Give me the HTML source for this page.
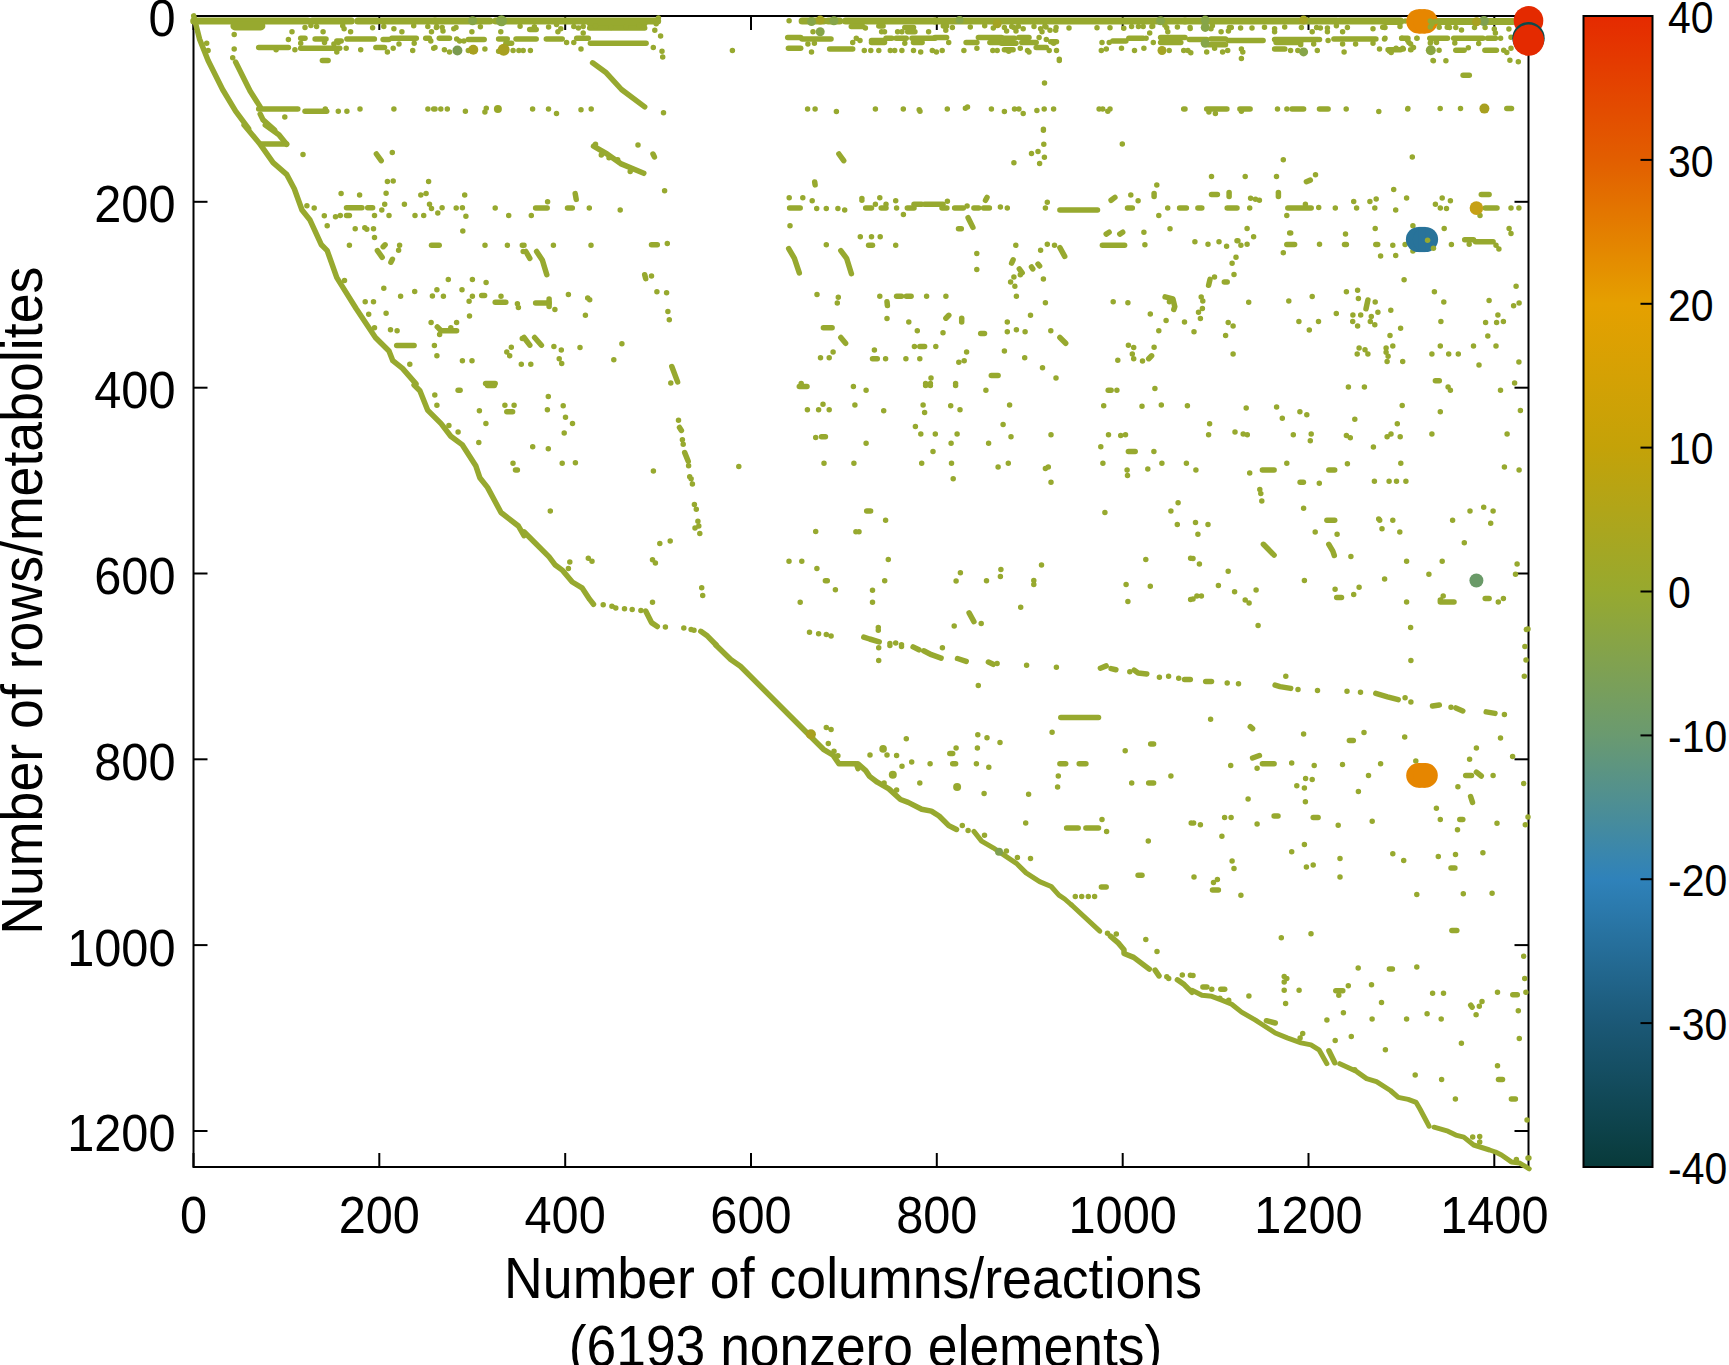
<!DOCTYPE html><html><head><meta charset="utf-8"><style>html,body{margin:0;padding:0;background:#fff;width:1729px;height:1365px;overflow:hidden;position:relative}text{font-family:"Liberation Sans",sans-serif;fill:#000}</style></head><body><svg width="1729" height="1365" viewBox="0 0 1729 1365" style="position:absolute;left:0;top:0">
<defs><linearGradient id="cb" x1="0" y1="0" x2="0" y2="1"><stop offset="0" stop-color="#e52a00"/><stop offset="0.125" stop-color="#e25e00"/><stop offset="0.25" stop-color="#e5a000"/><stop offset="0.375" stop-color="#c4a208"/><stop offset="0.5" stop-color="#97a92f"/><stop offset="0.625" stop-color="#6a9a70"/><stop offset="0.75" stop-color="#2f82ba"/><stop offset="0.875" stop-color="#1b5876"/><stop offset="1" stop-color="#083a3a"/></linearGradient></defs>
<rect x="193.5" y="16.0" width="1335.0" height="1151.0" fill="none" stroke="#000" stroke-width="2"/>
<line x1="193.5" y1="1167.0" x2="193.5" y2="1153.0" stroke="#000" stroke-width="2"/>
<line x1="193.5" y1="16.0" x2="193.5" y2="30.0" stroke="#000" stroke-width="2"/>
<line x1="379.3" y1="1167.0" x2="379.3" y2="1153.0" stroke="#000" stroke-width="2"/>
<line x1="379.3" y1="16.0" x2="379.3" y2="30.0" stroke="#000" stroke-width="2"/>
<line x1="565.2" y1="1167.0" x2="565.2" y2="1153.0" stroke="#000" stroke-width="2"/>
<line x1="565.2" y1="16.0" x2="565.2" y2="30.0" stroke="#000" stroke-width="2"/>
<line x1="751.0" y1="1167.0" x2="751.0" y2="1153.0" stroke="#000" stroke-width="2"/>
<line x1="751.0" y1="16.0" x2="751.0" y2="30.0" stroke="#000" stroke-width="2"/>
<line x1="936.8" y1="1167.0" x2="936.8" y2="1153.0" stroke="#000" stroke-width="2"/>
<line x1="936.8" y1="16.0" x2="936.8" y2="30.0" stroke="#000" stroke-width="2"/>
<line x1="1122.7" y1="1167.0" x2="1122.7" y2="1153.0" stroke="#000" stroke-width="2"/>
<line x1="1122.7" y1="16.0" x2="1122.7" y2="30.0" stroke="#000" stroke-width="2"/>
<line x1="1308.5" y1="1167.0" x2="1308.5" y2="1153.0" stroke="#000" stroke-width="2"/>
<line x1="1308.5" y1="16.0" x2="1308.5" y2="30.0" stroke="#000" stroke-width="2"/>
<line x1="1494.3" y1="1167.0" x2="1494.3" y2="1153.0" stroke="#000" stroke-width="2"/>
<line x1="1494.3" y1="16.0" x2="1494.3" y2="30.0" stroke="#000" stroke-width="2"/>
<line x1="193.5" y1="16.0" x2="207.5" y2="16.0" stroke="#000" stroke-width="2"/>
<line x1="1528.5" y1="16.0" x2="1514.5" y2="16.0" stroke="#000" stroke-width="2"/>
<line x1="193.5" y1="201.8" x2="207.5" y2="201.8" stroke="#000" stroke-width="2"/>
<line x1="1528.5" y1="201.8" x2="1514.5" y2="201.8" stroke="#000" stroke-width="2"/>
<line x1="193.5" y1="387.7" x2="207.5" y2="387.7" stroke="#000" stroke-width="2"/>
<line x1="1528.5" y1="387.7" x2="1514.5" y2="387.7" stroke="#000" stroke-width="2"/>
<line x1="193.5" y1="573.5" x2="207.5" y2="573.5" stroke="#000" stroke-width="2"/>
<line x1="1528.5" y1="573.5" x2="1514.5" y2="573.5" stroke="#000" stroke-width="2"/>
<line x1="193.5" y1="759.3" x2="207.5" y2="759.3" stroke="#000" stroke-width="2"/>
<line x1="1528.5" y1="759.3" x2="1514.5" y2="759.3" stroke="#000" stroke-width="2"/>
<line x1="193.5" y1="945.1" x2="207.5" y2="945.1" stroke="#000" stroke-width="2"/>
<line x1="1528.5" y1="945.1" x2="1514.5" y2="945.1" stroke="#000" stroke-width="2"/>
<line x1="193.5" y1="1131.0" x2="207.5" y2="1131.0" stroke="#000" stroke-width="2"/>
<line x1="1528.5" y1="1131.0" x2="1514.5" y2="1131.0" stroke="#000" stroke-width="2"/>
<g fill="#97a92f">
<polyline points="193.7,21.0 307.9,21.0" fill="none" stroke="#97a92f" stroke-width="7" stroke-linecap="round" stroke-linejoin="round"/>
<polyline points="312.2,21.0 351.3,21.0" fill="none" stroke="#97a92f" stroke-width="7" stroke-linecap="round" stroke-linejoin="round"/>
<polyline points="357.8,21.0 377.3,21.0" fill="none" stroke="#97a92f" stroke-width="7" stroke-linecap="round" stroke-linejoin="round"/>
<polyline points="381.6,21.0 435.0,21.0" fill="none" stroke="#97a92f" stroke-width="7" stroke-linecap="round" stroke-linejoin="round"/>
<polyline points="234.9,25.9 260.9,25.9" fill="none" stroke="#97a92f" stroke-width="9" stroke-linecap="round" stroke-linejoin="round"/>
<polyline points="300.7,38.2 305.0,38.2" fill="none" stroke="#97a92f" stroke-width="5.5" stroke-linecap="round" stroke-linejoin="round"/>
<polyline points="315.1,38.9 326.0,38.9" fill="none" stroke="#97a92f" stroke-width="5.5" stroke-linecap="round" stroke-linejoin="round"/>
<polyline points="336.8,41.1 341.2,41.1" fill="none" stroke="#97a92f" stroke-width="5.5" stroke-linecap="round" stroke-linejoin="round"/>
<polyline points="346.9,38.9 374.4,38.9" fill="none" stroke="#97a92f" stroke-width="5.5" stroke-linecap="round" stroke-linejoin="round"/>
<polyline points="383.1,39.6 388.9,39.6" fill="none" stroke="#97a92f" stroke-width="5.5" stroke-linecap="round" stroke-linejoin="round"/>
<polyline points="391.8,38.2 416.3,38.2" fill="none" stroke="#97a92f" stroke-width="5.5" stroke-linecap="round" stroke-linejoin="round"/>
<polyline points="425.7,38.2 429.4,38.2" fill="none" stroke="#97a92f" stroke-width="5.5" stroke-linecap="round" stroke-linejoin="round"/>
<polyline points="258.7,47.6 288.4,47.6" fill="none" stroke="#97a92f" stroke-width="5.5" stroke-linecap="round" stroke-linejoin="round"/>
<polyline points="300.7,48.3 339.7,48.3" fill="none" stroke="#97a92f" stroke-width="5.5" stroke-linecap="round" stroke-linejoin="round"/>
<polyline points="375.9,47.6 384.5,47.6" fill="none" stroke="#97a92f" stroke-width="5.5" stroke-linecap="round" stroke-linejoin="round"/>
<polyline points="322.4,60.6 328.1,60.6" fill="none" stroke="#97a92f" stroke-width="5.5" stroke-linecap="round" stroke-linejoin="round"/>
<polyline points="235.6,62.1 247.2,85.2 250.1,91.0 260.2,106.9" fill="none" stroke="#97a92f" stroke-width="5.5" stroke-linecap="round" stroke-linejoin="round"/>
<polyline points="258.7,109.0 297.8,109.0" fill="none" stroke="#97a92f" stroke-width="5.5" stroke-linecap="round" stroke-linejoin="round"/>
<polyline points="305.0,111.2 326.7,111.2" fill="none" stroke="#97a92f" stroke-width="5.5" stroke-linecap="round" stroke-linejoin="round"/>
<polyline points="260.2,114.1 263.1,119.9 274.6,130.0" fill="none" stroke="#97a92f" stroke-width="5.5" stroke-linecap="round" stroke-linejoin="round"/>
<polyline points="193.7,15.8 199.5,38.9 208.1,60.6 222.6,89.5 235.6,111.2 248.6,128.6" fill="none" stroke="#97a92f" stroke-width="5.5" stroke-linecap="round" stroke-linejoin="round"/>
<polyline points="435.0,21.0 489.9,21.0" fill="none" stroke="#97a92f" stroke-width="7" stroke-linecap="round" stroke-linejoin="round"/>
<polyline points="495.7,21.0 657.7,21.0" fill="none" stroke="#97a92f" stroke-width="7" stroke-linecap="round" stroke-linejoin="round"/>
<polyline points="529.7,29.5 536.2,29.5" fill="none" stroke="#97a92f" stroke-width="5.5" stroke-linecap="round" stroke-linejoin="round"/>
<polyline points="589.7,23.7 644.7,23.7" fill="none" stroke="#97a92f" stroke-width="5.5" stroke-linecap="round" stroke-linejoin="round"/>
<polyline points="589.7,28.1 644.7,28.1" fill="none" stroke="#97a92f" stroke-width="5.5" stroke-linecap="round" stroke-linejoin="round"/>
<polyline points="439.3,38.2 449.5,38.2" fill="none" stroke="#97a92f" stroke-width="5.5" stroke-linecap="round" stroke-linejoin="round"/>
<polyline points="468.3,39.6 484.2,39.6" fill="none" stroke="#97a92f" stroke-width="5.5" stroke-linecap="round" stroke-linejoin="round"/>
<polyline points="498.6,38.9 507.3,38.9" fill="none" stroke="#97a92f" stroke-width="5.5" stroke-linecap="round" stroke-linejoin="round"/>
<polyline points="505.9,43.3 511.6,43.3" fill="none" stroke="#97a92f" stroke-width="5.5" stroke-linecap="round" stroke-linejoin="round"/>
<polyline points="516.0,38.9 536.2,38.9" fill="none" stroke="#97a92f" stroke-width="5.5" stroke-linecap="round" stroke-linejoin="round"/>
<polyline points="546.3,38.9 562.2,38.9" fill="none" stroke="#97a92f" stroke-width="5.5" stroke-linecap="round" stroke-linejoin="round"/>
<polyline points="576.7,38.2 588.3,38.2" fill="none" stroke="#97a92f" stroke-width="5.5" stroke-linecap="round" stroke-linejoin="round"/>
<polyline points="590.4,43.3 646.1,43.3" fill="none" stroke="#97a92f" stroke-width="5.5" stroke-linecap="round" stroke-linejoin="round"/>
<polyline points="592.6,62.8 605.6,72.2 621.5,89.5 644.7,106.9" fill="none" stroke="#97a92f" stroke-width="5.5" stroke-linecap="round" stroke-linejoin="round"/>
<polyline points="802.1,21.0 823.8,21.0" fill="none" stroke="#97a92f" stroke-width="7" stroke-linecap="round" stroke-linejoin="round"/>
<polyline points="828.1,21.0 839.7,21.0" fill="none" stroke="#97a92f" stroke-width="7" stroke-linecap="round" stroke-linejoin="round"/>
<polyline points="845.5,21.0 935.0,21.0" fill="none" stroke="#97a92f" stroke-width="7" stroke-linecap="round" stroke-linejoin="round"/>
<polyline points="851.3,26.6 862.8,26.6" fill="none" stroke="#97a92f" stroke-width="5.5" stroke-linecap="round" stroke-linejoin="round"/>
<polyline points="878.8,25.9 883.1,25.9" fill="none" stroke="#97a92f" stroke-width="5.5" stroke-linecap="round" stroke-linejoin="round"/>
<polyline points="904.8,27.4 913.5,27.4" fill="none" stroke="#97a92f" stroke-width="5.5" stroke-linecap="round" stroke-linejoin="round"/>
<polyline points="907.7,31.7 914.9,31.7" fill="none" stroke="#97a92f" stroke-width="5.5" stroke-linecap="round" stroke-linejoin="round"/>
<polyline points="787.7,37.5 800.7,37.5" fill="none" stroke="#97a92f" stroke-width="5.5" stroke-linecap="round" stroke-linejoin="round"/>
<polyline points="802.1,38.9 831.0,38.9" fill="none" stroke="#97a92f" stroke-width="5.5" stroke-linecap="round" stroke-linejoin="round"/>
<polyline points="871.5,42.5 884.5,42.5" fill="none" stroke="#97a92f" stroke-width="5.5" stroke-linecap="round" stroke-linejoin="round"/>
<polyline points="871.5,40.4 884.5,40.4" fill="none" stroke="#97a92f" stroke-width="5.5" stroke-linecap="round" stroke-linejoin="round"/>
<polyline points="886.0,38.2 891.8,38.2" fill="none" stroke="#97a92f" stroke-width="5.5" stroke-linecap="round" stroke-linejoin="round"/>
<polyline points="896.1,38.2 906.2,38.2" fill="none" stroke="#97a92f" stroke-width="5.5" stroke-linecap="round" stroke-linejoin="round"/>
<polyline points="912.0,38.2 935.0,38.2" fill="none" stroke="#97a92f" stroke-width="5.5" stroke-linecap="round" stroke-linejoin="round"/>
<polyline points="913.5,42.5 922.1,42.5" fill="none" stroke="#97a92f" stroke-width="5.5" stroke-linecap="round" stroke-linejoin="round"/>
<polyline points="788.4,48.3 800.7,48.3" fill="none" stroke="#97a92f" stroke-width="5.5" stroke-linecap="round" stroke-linejoin="round"/>
<polyline points="829.6,49.0 852.7,49.0" fill="none" stroke="#97a92f" stroke-width="5.5" stroke-linecap="round" stroke-linejoin="round"/>
<polyline points="935.0,21.0 1185.0,21.0" fill="none" stroke="#97a92f" stroke-width="7" stroke-linecap="round" stroke-linejoin="round"/>
<polyline points="935.0,37.5 946.6,37.5" fill="none" stroke="#97a92f" stroke-width="5.5" stroke-linecap="round" stroke-linejoin="round"/>
<polyline points="966.1,42.5 976.9,42.5" fill="none" stroke="#97a92f" stroke-width="5.5" stroke-linecap="round" stroke-linejoin="round"/>
<polyline points="978.4,37.5 1001.5,37.5" fill="none" stroke="#97a92f" stroke-width="5.5" stroke-linecap="round" stroke-linejoin="round"/>
<polyline points="989.9,42.5 1000.1,42.5" fill="none" stroke="#97a92f" stroke-width="5.5" stroke-linecap="round" stroke-linejoin="round"/>
<polyline points="1003.0,38.2 1014.5,38.2" fill="none" stroke="#97a92f" stroke-width="5.5" stroke-linecap="round" stroke-linejoin="round"/>
<polyline points="1001.5,43.3 1016.0,43.3" fill="none" stroke="#97a92f" stroke-width="5.5" stroke-linecap="round" stroke-linejoin="round"/>
<polyline points="1018.9,37.5 1029.0,37.5" fill="none" stroke="#97a92f" stroke-width="5.5" stroke-linecap="round" stroke-linejoin="round"/>
<polyline points="1021.8,42.5 1036.2,42.5" fill="none" stroke="#97a92f" stroke-width="5.5" stroke-linecap="round" stroke-linejoin="round"/>
<polyline points="1050.7,41.8 1056.5,41.8" fill="none" stroke="#97a92f" stroke-width="5.5" stroke-linecap="round" stroke-linejoin="round"/>
<polyline points="1004.4,49.8 1013.1,49.8" fill="none" stroke="#97a92f" stroke-width="5.5" stroke-linecap="round" stroke-linejoin="round"/>
<polyline points="1036.2,47.6 1046.3,47.6" fill="none" stroke="#97a92f" stroke-width="5.5" stroke-linecap="round" stroke-linejoin="round"/>
<polyline points="1112.8,41.1 1125.9,41.1" fill="none" stroke="#97a92f" stroke-width="5.5" stroke-linecap="round" stroke-linejoin="round"/>
<polyline points="1128.8,38.2 1143.2,38.2" fill="none" stroke="#97a92f" stroke-width="5.5" stroke-linecap="round" stroke-linejoin="round"/>
<polyline points="1160.6,37.5 1185.0,37.5" fill="none" stroke="#97a92f" stroke-width="5.5" stroke-linecap="round" stroke-linejoin="round"/>
<polyline points="1160.6,42.5 1180.8,42.5" fill="none" stroke="#97a92f" stroke-width="5.5" stroke-linecap="round" stroke-linejoin="round"/>
<polyline points="1185.0,21.0 1336.8,21.0" fill="none" stroke="#97a92f" stroke-width="7" stroke-linecap="round" stroke-linejoin="round"/>
<polyline points="1339.7,21.0 1400.4,21.0" fill="none" stroke="#97a92f" stroke-width="7" stroke-linecap="round" stroke-linejoin="round"/>
<polyline points="1189.3,39.6 1206.7,39.6" fill="none" stroke="#97a92f" stroke-width="5.5" stroke-linecap="round" stroke-linejoin="round"/>
<polyline points="1211.0,38.9 1225.5,38.9" fill="none" stroke="#97a92f" stroke-width="5.5" stroke-linecap="round" stroke-linejoin="round"/>
<polyline points="1208.1,44.7 1225.5,44.7" fill="none" stroke="#97a92f" stroke-width="5.5" stroke-linecap="round" stroke-linejoin="round"/>
<polyline points="1228.4,40.4 1263.1,40.4" fill="none" stroke="#97a92f" stroke-width="5.5" stroke-linecap="round" stroke-linejoin="round"/>
<polyline points="1274.6,39.6 1318.0,39.6" fill="none" stroke="#97a92f" stroke-width="5.5" stroke-linecap="round" stroke-linejoin="round"/>
<polyline points="1276.1,42.5 1300.7,42.5" fill="none" stroke="#97a92f" stroke-width="5.5" stroke-linecap="round" stroke-linejoin="round"/>
<polyline points="1333.9,38.9 1375.9,38.9" fill="none" stroke="#97a92f" stroke-width="5.5" stroke-linecap="round" stroke-linejoin="round"/>
<polyline points="1274.6,49.0 1284.8,49.0" fill="none" stroke="#97a92f" stroke-width="5.5" stroke-linecap="round" stroke-linejoin="round"/>
<polyline points="1206.7,109.0 1226.9,109.0" fill="none" stroke="#97a92f" stroke-width="5.5" stroke-linecap="round" stroke-linejoin="round"/>
<polyline points="1239.9,109.0 1250.1,109.0" fill="none" stroke="#97a92f" stroke-width="5.5" stroke-linecap="round" stroke-linejoin="round"/>
<polyline points="1292.0,109.0 1303.6,109.0" fill="none" stroke="#97a92f" stroke-width="5.5" stroke-linecap="round" stroke-linejoin="round"/>
<polyline points="1319.5,109.0 1328.1,109.0" fill="none" stroke="#97a92f" stroke-width="5.5" stroke-linecap="round" stroke-linejoin="round"/>
<polyline points="1385.0,21.4 1400.6,21.4" fill="none" stroke="#97a92f" stroke-width="7" stroke-linecap="round" stroke-linejoin="round"/>
<polyline points="1428.7,21.4 1513.1,21.4" fill="none" stroke="#97a92f" stroke-width="7" stroke-linecap="round" stroke-linejoin="round"/>
<polyline points="1401.7,38.3 1407.9,38.3" fill="none" stroke="#97a92f" stroke-width="5.5" stroke-linecap="round" stroke-linejoin="round"/>
<polyline points="1429.8,38.3 1447.5,38.3" fill="none" stroke="#97a92f" stroke-width="5.5" stroke-linecap="round" stroke-linejoin="round"/>
<polyline points="1453.7,38.3 1482.9,38.3" fill="none" stroke="#97a92f" stroke-width="5.5" stroke-linecap="round" stroke-linejoin="round"/>
<polyline points="1487.5,38.3 1495.4,38.3" fill="none" stroke="#97a92f" stroke-width="5.5" stroke-linecap="round" stroke-linejoin="round"/>
<polyline points="1388.1,49.8 1400.6,49.8" fill="none" stroke="#97a92f" stroke-width="5.5" stroke-linecap="round" stroke-linejoin="round"/>
<polyline points="1455.8,50.3 1464.1,50.3" fill="none" stroke="#97a92f" stroke-width="5.5" stroke-linecap="round" stroke-linejoin="round"/>
<polyline points="1484.9,50.3 1496.4,50.3" fill="none" stroke="#97a92f" stroke-width="5.5" stroke-linecap="round" stroke-linejoin="round"/>
<polyline points="1463.1,75.3 1469.3,75.3" fill="none" stroke="#97a92f" stroke-width="5.5" stroke-linecap="round" stroke-linejoin="round"/>
<polyline points="1506.8,108.6 1511.5,108.6" fill="none" stroke="#97a92f" stroke-width="5.5" stroke-linecap="round" stroke-linejoin="round"/>
<polyline points="244.1,125.0 259.5,143.4 273.1,162.7 286.6,174.3 294.3,188.7 302.0,210.0 309.8,219.7 321.4,244.8 327.2,250.6 336.8,277.6 356.1,308.5 375.4,337.5 389.0,351.0 392.8,360.7 402.5,368.4 416.0,383.9" fill="none" stroke="#97a92f" stroke-width="5.5" stroke-linecap="round" stroke-linejoin="round"/>
<polyline points="265.3,125.0 278.9,134.7 286.6,144.3" fill="none" stroke="#97a92f" stroke-width="5.5" stroke-linecap="round" stroke-linejoin="round"/>
<polyline points="261.5,143.9 286.6,143.9" fill="none" stroke="#97a92f" stroke-width="5.5" stroke-linecap="round" stroke-linejoin="round"/>
<polyline points="376.4,154.0 381.2,160.7" fill="none" stroke="#97a92f" stroke-width="5.5" stroke-linecap="round" stroke-linejoin="round"/>
<polyline points="346.5,207.7 361.9,207.7" fill="none" stroke="#97a92f" stroke-width="5.5" stroke-linecap="round" stroke-linejoin="round"/>
<polyline points="367.7,207.7 372.6,207.7" fill="none" stroke="#97a92f" stroke-width="5.5" stroke-linecap="round" stroke-linejoin="round"/>
<polyline points="346.5,215.4 349.4,215.4" fill="none" stroke="#97a92f" stroke-width="5.5" stroke-linecap="round" stroke-linejoin="round"/>
<polyline points="383.2,246.7 385.1,244.8" fill="none" stroke="#97a92f" stroke-width="5.5" stroke-linecap="round" stroke-linejoin="round"/>
<polyline points="431.5,245.2 439.2,245.2" fill="none" stroke="#97a92f" stroke-width="5.5" stroke-linecap="round" stroke-linejoin="round"/>
<polyline points="377.4,250.6 382.2,257.3" fill="none" stroke="#97a92f" stroke-width="5.5" stroke-linecap="round" stroke-linejoin="round"/>
<polyline points="390.9,262.2 392.4,259.3" fill="none" stroke="#97a92f" stroke-width="5.5" stroke-linecap="round" stroke-linejoin="round"/>
<polyline points="481.7,295.4 484.6,295.4" fill="none" stroke="#97a92f" stroke-width="5.5" stroke-linecap="round" stroke-linejoin="round"/>
<polyline points="495.2,302.3 505.8,302.3" fill="none" stroke="#97a92f" stroke-width="5.5" stroke-linecap="round" stroke-linejoin="round"/>
<polyline points="437.3,326.9 441.1,330.7 456.6,330.7" fill="none" stroke="#97a92f" stroke-width="5.5" stroke-linecap="round" stroke-linejoin="round"/>
<polyline points="396.7,345.6 414.1,345.6" fill="none" stroke="#97a92f" stroke-width="5.5" stroke-linecap="round" stroke-linejoin="round"/>
<polyline points="485.6,383.5 495.2,383.5" fill="none" stroke="#97a92f" stroke-width="5.5" stroke-linecap="round" stroke-linejoin="round"/>
<polyline points="593.5,146.2 607.1,154.0 620.6,163.6 643.8,173.3" fill="none" stroke="#97a92f" stroke-width="5.5" stroke-linecap="round" stroke-linejoin="round"/>
<polyline points="653.0,154.0 654.4,156.9" fill="none" stroke="#97a92f" stroke-width="5.5" stroke-linecap="round" stroke-linejoin="round"/>
<polyline points="575.2,193.6 576.2,199.4" fill="none" stroke="#97a92f" stroke-width="5.5" stroke-linecap="round" stroke-linejoin="round"/>
<polyline points="535.6,208.1 547.2,208.1" fill="none" stroke="#97a92f" stroke-width="5.5" stroke-linecap="round" stroke-linejoin="round"/>
<polyline points="567.5,208.1 572.3,208.1" fill="none" stroke="#97a92f" stroke-width="5.5" stroke-linecap="round" stroke-linejoin="round"/>
<polyline points="651.5,244.8 657.3,244.8" fill="none" stroke="#97a92f" stroke-width="5.5" stroke-linecap="round" stroke-linejoin="round"/>
<polyline points="525.9,251.5 529.8,258.3" fill="none" stroke="#97a92f" stroke-width="5.5" stroke-linecap="round" stroke-linejoin="round"/>
<polyline points="536.6,251.5 542.4,260.2 546.8,274.7" fill="none" stroke="#97a92f" stroke-width="5.5" stroke-linecap="round" stroke-linejoin="round"/>
<polyline points="644.7,274.7 645.7,278.6" fill="none" stroke="#97a92f" stroke-width="5.5" stroke-linecap="round" stroke-linejoin="round"/>
<polyline points="535.6,303.1 549.1,303.1" fill="none" stroke="#97a92f" stroke-width="5.5" stroke-linecap="round" stroke-linejoin="round"/>
<polyline points="549.1,298.9 549.1,306.6" fill="none" stroke="#97a92f" stroke-width="5.5" stroke-linecap="round" stroke-linejoin="round"/>
<polyline points="524.0,337.5 529.8,345.2" fill="none" stroke="#97a92f" stroke-width="5.5" stroke-linecap="round" stroke-linejoin="round"/>
<polyline points="534.6,337.5 541.4,345.2" fill="none" stroke="#97a92f" stroke-width="5.5" stroke-linecap="round" stroke-linejoin="round"/>
<polyline points="671.8,366.5 677.6,381.9" fill="none" stroke="#97a92f" stroke-width="5.5" stroke-linecap="round" stroke-linejoin="round"/>
<polyline points="838.9,154.0 843.7,160.7" fill="none" stroke="#97a92f" stroke-width="5.5" stroke-linecap="round" stroke-linejoin="round"/>
<polyline points="814.7,182.0 815.1,184.9" fill="none" stroke="#97a92f" stroke-width="5.5" stroke-linecap="round" stroke-linejoin="round"/>
<polyline points="789.6,208.1 800.2,208.1" fill="none" stroke="#97a92f" stroke-width="5.5" stroke-linecap="round" stroke-linejoin="round"/>
<polyline points="788.7,248.6 794.4,258.3 799.3,272.8" fill="none" stroke="#97a92f" stroke-width="5.5" stroke-linecap="round" stroke-linejoin="round"/>
<polyline points="840.8,250.6 846.6,258.3 851.4,273.7" fill="none" stroke="#97a92f" stroke-width="5.5" stroke-linecap="round" stroke-linejoin="round"/>
<polyline points="823.4,327.8 832.1,327.8" fill="none" stroke="#97a92f" stroke-width="5.5" stroke-linecap="round" stroke-linejoin="round"/>
<polyline points="840.8,337.5 845.6,343.3" fill="none" stroke="#97a92f" stroke-width="5.5" stroke-linecap="round" stroke-linejoin="round"/>
<polyline points="865.7,208.1 871.5,208.1" fill="none" stroke="#97a92f" stroke-width="5.5" stroke-linecap="round" stroke-linejoin="round"/>
<polyline points="881.2,208.1 886.0,208.1" fill="none" stroke="#97a92f" stroke-width="5.5" stroke-linecap="round" stroke-linejoin="round"/>
<polyline points="907.3,208.1 914.0,208.1" fill="none" stroke="#97a92f" stroke-width="5.5" stroke-linecap="round" stroke-linejoin="round"/>
<polyline points="914.0,204.2 921.7,204.2" fill="none" stroke="#97a92f" stroke-width="5.5" stroke-linecap="round" stroke-linejoin="round"/>
<polyline points="924.6,204.2 943.0,204.2" fill="none" stroke="#97a92f" stroke-width="5.5" stroke-linecap="round" stroke-linejoin="round"/>
<polyline points="942.0,208.1 946.9,208.1" fill="none" stroke="#97a92f" stroke-width="5.5" stroke-linecap="round" stroke-linejoin="round"/>
<polyline points="954.6,208.1 963.3,208.1" fill="none" stroke="#97a92f" stroke-width="5.5" stroke-linecap="round" stroke-linejoin="round"/>
<polyline points="973.9,208.1 978.7,208.1" fill="none" stroke="#97a92f" stroke-width="5.5" stroke-linecap="round" stroke-linejoin="round"/>
<polyline points="983.6,208.1 989.4,208.1" fill="none" stroke="#97a92f" stroke-width="5.5" stroke-linecap="round" stroke-linejoin="round"/>
<polyline points="985.5,200.3 987.0,197.4" fill="none" stroke="#97a92f" stroke-width="5.5" stroke-linecap="round" stroke-linejoin="round"/>
<polyline points="1059.9,210.0 1097.5,210.0" fill="none" stroke="#97a92f" stroke-width="5.5" stroke-linecap="round" stroke-linejoin="round"/>
<polyline points="1111.1,200.3 1114.9,197.4" fill="none" stroke="#97a92f" stroke-width="5.5" stroke-linecap="round" stroke-linejoin="round"/>
<polyline points="1154.1,193.6 1154.1,196.5" fill="none" stroke="#97a92f" stroke-width="5.5" stroke-linecap="round" stroke-linejoin="round"/>
<polyline points="1127.5,208.1 1132.3,208.1" fill="none" stroke="#97a92f" stroke-width="5.5" stroke-linecap="round" stroke-linejoin="round"/>
<polyline points="1179.6,208.1 1186.4,208.1" fill="none" stroke="#97a92f" stroke-width="5.5" stroke-linecap="round" stroke-linejoin="round"/>
<polyline points="968.1,217.7 972.9,227.4" fill="none" stroke="#97a92f" stroke-width="5.5" stroke-linecap="round" stroke-linejoin="round"/>
<polyline points="958.5,228.7 961.3,228.7" fill="none" stroke="#97a92f" stroke-width="5.5" stroke-linecap="round" stroke-linejoin="round"/>
<polyline points="868.6,245.2 872.5,245.2" fill="none" stroke="#97a92f" stroke-width="5.5" stroke-linecap="round" stroke-linejoin="round"/>
<polyline points="1106.2,234.1 1109.1,232.2" fill="none" stroke="#97a92f" stroke-width="5.5" stroke-linecap="round" stroke-linejoin="round"/>
<polyline points="1119.8,234.1 1122.7,232.2" fill="none" stroke="#97a92f" stroke-width="5.5" stroke-linecap="round" stroke-linejoin="round"/>
<polyline points="1102.4,245.3 1124.6,245.3" fill="none" stroke="#97a92f" stroke-width="5.5" stroke-linecap="round" stroke-linejoin="round"/>
<polyline points="1059.9,247.7 1064.7,256.4" fill="none" stroke="#97a92f" stroke-width="5.5" stroke-linecap="round" stroke-linejoin="round"/>
<polyline points="1011.6,263.1 1013.1,259.8" fill="none" stroke="#97a92f" stroke-width="5.5" stroke-linecap="round" stroke-linejoin="round"/>
<polyline points="1019.3,268.9 1022.2,272.8" fill="none" stroke="#97a92f" stroke-width="5.5" stroke-linecap="round" stroke-linejoin="round"/>
<polyline points="1031.5,267.0 1032.8,268.9" fill="none" stroke="#97a92f" stroke-width="5.5" stroke-linecap="round" stroke-linejoin="round"/>
<polyline points="1038.0,264.1 1039.6,266.0" fill="none" stroke="#97a92f" stroke-width="5.5" stroke-linecap="round" stroke-linejoin="round"/>
<polyline points="896.6,296.3 901.5,296.3" fill="none" stroke="#97a92f" stroke-width="5.5" stroke-linecap="round" stroke-linejoin="round"/>
<polyline points="906.3,296.3 911.1,296.3" fill="none" stroke="#97a92f" stroke-width="5.5" stroke-linecap="round" stroke-linejoin="round"/>
<polyline points="887.0,301.8 887.4,305.6" fill="none" stroke="#97a92f" stroke-width="5.5" stroke-linecap="round" stroke-linejoin="round"/>
<polyline points="945.9,318.2 948.8,315.3" fill="none" stroke="#97a92f" stroke-width="5.5" stroke-linecap="round" stroke-linejoin="round"/>
<polyline points="961.7,318.2 961.7,322.0" fill="none" stroke="#97a92f" stroke-width="5.5" stroke-linecap="round" stroke-linejoin="round"/>
<polyline points="980.7,333.6 984.5,333.6" fill="none" stroke="#97a92f" stroke-width="5.5" stroke-linecap="round" stroke-linejoin="round"/>
<polyline points="1059.9,337.5 1065.7,343.3" fill="none" stroke="#97a92f" stroke-width="5.5" stroke-linecap="round" stroke-linejoin="round"/>
<polyline points="872.5,358.7 877.3,358.7" fill="none" stroke="#97a92f" stroke-width="5.5" stroke-linecap="round" stroke-linejoin="round"/>
<polyline points="919.8,346.6 924.6,346.6" fill="none" stroke="#97a92f" stroke-width="5.5" stroke-linecap="round" stroke-linejoin="round"/>
<polyline points="991.3,375.5 998.1,375.5" fill="none" stroke="#97a92f" stroke-width="5.5" stroke-linecap="round" stroke-linejoin="round"/>
<polyline points="1165.1,296.9 1172.9,298.9 1174.8,306.6 1173.8,309.5" fill="none" stroke="#97a92f" stroke-width="5.5" stroke-linecap="round" stroke-linejoin="round"/>
<polyline points="1148.7,358.7 1151.6,355.8" fill="none" stroke="#97a92f" stroke-width="5.5" stroke-linecap="round" stroke-linejoin="round"/>
<polyline points="1306.4,181.7 1310.3,180.1" fill="none" stroke="#97a92f" stroke-width="5.5" stroke-linecap="round" stroke-linejoin="round"/>
<polyline points="1211.5,194.4 1217.4,194.4" fill="none" stroke="#97a92f" stroke-width="5.5" stroke-linecap="round" stroke-linejoin="round"/>
<polyline points="1229.1,192.4 1229.1,196.4" fill="none" stroke="#97a92f" stroke-width="5.5" stroke-linecap="round" stroke-linejoin="round"/>
<polyline points="1278.4,192.4 1278.4,196.4" fill="none" stroke="#97a92f" stroke-width="5.5" stroke-linecap="round" stroke-linejoin="round"/>
<polyline points="1481.3,194.4 1489.1,194.4" fill="none" stroke="#97a92f" stroke-width="5.5" stroke-linecap="round" stroke-linejoin="round"/>
<polyline points="1197.9,208.1 1201.8,208.1" fill="none" stroke="#97a92f" stroke-width="5.5" stroke-linecap="round" stroke-linejoin="round"/>
<polyline points="1227.2,208.1 1237.0,208.1" fill="none" stroke="#97a92f" stroke-width="5.5" stroke-linecap="round" stroke-linejoin="round"/>
<polyline points="1287.8,208.1 1311.2,208.1" fill="none" stroke="#97a92f" stroke-width="5.5" stroke-linecap="round" stroke-linejoin="round"/>
<polyline points="1485.2,208.1 1497.0,208.1" fill="none" stroke="#97a92f" stroke-width="5.5" stroke-linecap="round" stroke-linejoin="round"/>
<polyline points="1289.7,233.1 1290.7,233.1" fill="none" stroke="#97a92f" stroke-width="5.5" stroke-linecap="round" stroke-linejoin="round"/>
<polyline points="1237.0,240.7 1237.9,240.7" fill="none" stroke="#97a92f" stroke-width="5.5" stroke-linecap="round" stroke-linejoin="round"/>
<polyline points="1286.8,244.6 1294.6,244.6" fill="none" stroke="#97a92f" stroke-width="5.5" stroke-linecap="round" stroke-linejoin="round"/>
<polyline points="1344.5,244.6 1346.4,244.6" fill="none" stroke="#97a92f" stroke-width="5.5" stroke-linecap="round" stroke-linejoin="round"/>
<polyline points="1375.8,244.6 1377.7,244.6" fill="none" stroke="#97a92f" stroke-width="5.5" stroke-linecap="round" stroke-linejoin="round"/>
<polyline points="1464.7,239.8 1473.5,239.8" fill="none" stroke="#97a92f" stroke-width="5.5" stroke-linecap="round" stroke-linejoin="round"/>
<polyline points="1475.5,241.7 1493.1,241.7" fill="none" stroke="#97a92f" stroke-width="5.5" stroke-linecap="round" stroke-linejoin="round"/>
<polyline points="1208.6,285.3 1210.0,279.4" fill="none" stroke="#97a92f" stroke-width="5.5" stroke-linecap="round" stroke-linejoin="round"/>
<polyline points="1224.3,282.0 1227.2,282.0" fill="none" stroke="#97a92f" stroke-width="5.5" stroke-linecap="round" stroke-linejoin="round"/>
<polyline points="1366.0,308.8 1367.9,300.0" fill="none" stroke="#97a92f" stroke-width="5.5" stroke-linecap="round" stroke-linejoin="round"/>
<polyline points="1435.4,380.7 1439.3,380.7" fill="none" stroke="#97a92f" stroke-width="5.5" stroke-linecap="round" stroke-linejoin="round"/>
<polyline points="414.1,385.0 419.9,390.8 427.6,410.1 441.1,423.6 450.8,436.2 462.4,444.9 475.9,466.1 479.8,477.7 487.5,487.4 501.0,512.5 518.4,526.0 524.0,535.7" fill="none" stroke="#97a92f" stroke-width="5.5" stroke-linecap="round" stroke-linejoin="round"/>
<polyline points="506.8,411.7 512.6,411.7" fill="none" stroke="#97a92f" stroke-width="5.5" stroke-linecap="round" stroke-linejoin="round"/>
<polyline points="515.5,470.0 517.4,470.0" fill="none" stroke="#97a92f" stroke-width="5.5" stroke-linecap="round" stroke-linejoin="round"/>
<polyline points="458.1,390.2 460.1,390.2" fill="none" stroke="#97a92f" stroke-width="5.5" stroke-linecap="round" stroke-linejoin="round"/>
<polyline points="487.5,385.6 494.3,385.6" fill="none" stroke="#97a92f" stroke-width="5.5" stroke-linecap="round" stroke-linejoin="round"/>
<polyline points="524.0,531.8 533.7,541.5 549.1,556.9 554.9,564.7 562.6,570.4 572.3,582.0 582.0,587.8 589.7,599.4 593.5,604.3" fill="none" stroke="#97a92f" stroke-width="5.5" stroke-linecap="round" stroke-linejoin="round"/>
<polyline points="645.7,611.0 651.5,622.6 657.3,626.5" fill="none" stroke="#97a92f" stroke-width="5.5" stroke-linecap="round" stroke-linejoin="round"/>
<polyline points="700.8,631.3 707.5,636.1 716.2,645.0" fill="none" stroke="#97a92f" stroke-width="5.5" stroke-linecap="round" stroke-linejoin="round"/>
<polyline points="679.5,427.5 681.4,430.4" fill="none" stroke="#97a92f" stroke-width="5.5" stroke-linecap="round" stroke-linejoin="round"/>
<polyline points="684.7,452.6 688.2,461.3" fill="none" stroke="#97a92f" stroke-width="5.5" stroke-linecap="round" stroke-linejoin="round"/>
<polyline points="821.5,436.8 825.4,436.8" fill="none" stroke="#97a92f" stroke-width="5.5" stroke-linecap="round" stroke-linejoin="round"/>
<polyline points="825.4,580.7 827.3,580.7" fill="none" stroke="#97a92f" stroke-width="5.5" stroke-linecap="round" stroke-linejoin="round"/>
<polyline points="799.3,386.5 807.0,386.5" fill="none" stroke="#97a92f" stroke-width="5.5" stroke-linecap="round" stroke-linejoin="round"/>
<polyline points="1108.2,390.2 1111.1,390.2" fill="none" stroke="#97a92f" stroke-width="5.5" stroke-linecap="round" stroke-linejoin="round"/>
<polyline points="1128.4,451.6 1135.2,451.6" fill="none" stroke="#97a92f" stroke-width="5.5" stroke-linecap="round" stroke-linejoin="round"/>
<polyline points="866.7,511.1 870.6,511.1" fill="none" stroke="#97a92f" stroke-width="5.5" stroke-linecap="round" stroke-linejoin="round"/>
<polyline points="969.1,612.9 973.9,621.6" fill="none" stroke="#97a92f" stroke-width="5.5" stroke-linecap="round" stroke-linejoin="round"/>
<polyline points="863.8,637.1 869.6,639.0 879.2,641.9" fill="none" stroke="#97a92f" stroke-width="5.5" stroke-linecap="round" stroke-linejoin="round"/>
<polyline points="1262.4,470.0 1274.1,470.0" fill="none" stroke="#97a92f" stroke-width="5.5" stroke-linecap="round" stroke-linejoin="round"/>
<polyline points="1328.8,470.0 1334.7,470.0" fill="none" stroke="#97a92f" stroke-width="5.5" stroke-linecap="round" stroke-linejoin="round"/>
<polyline points="1300.1,482.2 1303.4,482.2" fill="none" stroke="#97a92f" stroke-width="5.5" stroke-linecap="round" stroke-linejoin="round"/>
<polyline points="1326.9,520.3 1334.7,520.3" fill="none" stroke="#97a92f" stroke-width="5.5" stroke-linecap="round" stroke-linejoin="round"/>
<polyline points="1263.4,544.3 1274.1,555.1" fill="none" stroke="#97a92f" stroke-width="5.5" stroke-linecap="round" stroke-linejoin="round"/>
<polyline points="1328.8,544.3 1332.8,551.2 1334.3,555.5" fill="none" stroke="#97a92f" stroke-width="5.5" stroke-linecap="round" stroke-linejoin="round"/>
<polyline points="1336.7,597.5 1341.5,597.5" fill="none" stroke="#97a92f" stroke-width="5.5" stroke-linecap="round" stroke-linejoin="round"/>
<polyline points="1440.3,602.0 1454.0,602.0" fill="none" stroke="#97a92f" stroke-width="5.5" stroke-linecap="round" stroke-linejoin="round"/>
<polyline points="1485.2,598.5 1489.1,598.5" fill="none" stroke="#97a92f" stroke-width="5.5" stroke-linecap="round" stroke-linejoin="round"/>
<polyline points="715.8,645.0 730.7,659.5 740.4,666.2 790.6,716.5 804.1,730.0 811.8,737.7 823.4,749.3 833.1,755.1 838.9,763.8 856.3,763.8 858.0,768.6" fill="none" stroke="#97a92f" stroke-width="5.5" stroke-linecap="round" stroke-linejoin="round"/>
<polyline points="858.0,763.8 865.7,770.6 869.6,776.4 877.3,782.2 888.9,788.9 900.5,799.5 908.2,802.4 921.7,809.2 931.4,811.1 939.1,816.0 948.8,825.6 956.5,829.5" fill="none" stroke="#97a92f" stroke-width="5.5" stroke-linecap="round" stroke-linejoin="round"/>
<polyline points="973.9,831.4 981.6,841.1 993.2,847.8 1004.8,855.6 1016.4,863.3 1026.1,872.9 1039.6,881.6 1051.2,886.5 1058.9,895.2 1064.7,899.0 1071.5,905.0" fill="none" stroke="#97a92f" stroke-width="5" stroke-linecap="round" stroke-linejoin="round"/>
<polyline points="913.1,646.9 918.9,649.8" fill="none" stroke="#97a92f" stroke-width="5.5" stroke-linecap="round" stroke-linejoin="round"/>
<polyline points="923.7,650.8 931.4,654.7 941.1,658.1" fill="none" stroke="#97a92f" stroke-width="5.5" stroke-linecap="round" stroke-linejoin="round"/>
<polyline points="957.5,658.5 966.2,661.4" fill="none" stroke="#97a92f" stroke-width="5.5" stroke-linecap="round" stroke-linejoin="round"/>
<polyline points="988.4,662.0 993.2,664.3" fill="none" stroke="#97a92f" stroke-width="5.5" stroke-linecap="round" stroke-linejoin="round"/>
<polyline points="1100.4,668.2 1106.2,665.9" fill="none" stroke="#97a92f" stroke-width="5.5" stroke-linecap="round" stroke-linejoin="round"/>
<polyline points="1111.1,668.6 1115.9,669.7" fill="none" stroke="#97a92f" stroke-width="5.5" stroke-linecap="round" stroke-linejoin="round"/>
<polyline points="1134.2,670.1 1138.1,673.0 1146.8,674.0" fill="none" stroke="#97a92f" stroke-width="5.5" stroke-linecap="round" stroke-linejoin="round"/>
<polyline points="1184.5,679.4 1190.3,679.4" fill="none" stroke="#97a92f" stroke-width="5.5" stroke-linecap="round" stroke-linejoin="round"/>
<polyline points="1060.8,717.4 1098.5,717.4" fill="none" stroke="#97a92f" stroke-width="5.5" stroke-linecap="round" stroke-linejoin="round"/>
<polyline points="949.8,753.6 952.7,753.6" fill="none" stroke="#97a92f" stroke-width="5.5" stroke-linecap="round" stroke-linejoin="round"/>
<polyline points="1150.7,744.1 1153.6,744.1" fill="none" stroke="#97a92f" stroke-width="5.5" stroke-linecap="round" stroke-linejoin="round"/>
<polyline points="952.7,763.8 955.6,763.8" fill="none" stroke="#97a92f" stroke-width="5.5" stroke-linecap="round" stroke-linejoin="round"/>
<polyline points="1059.9,763.8 1065.7,763.8" fill="none" stroke="#97a92f" stroke-width="5.5" stroke-linecap="round" stroke-linejoin="round"/>
<polyline points="1079.2,763.8 1085.9,763.8" fill="none" stroke="#97a92f" stroke-width="5.5" stroke-linecap="round" stroke-linejoin="round"/>
<polyline points="1148.7,783.1 1153.6,783.1" fill="none" stroke="#97a92f" stroke-width="5.5" stroke-linecap="round" stroke-linejoin="round"/>
<polyline points="1066.6,828.1 1078.2,828.1" fill="none" stroke="#97a92f" stroke-width="5.5" stroke-linecap="round" stroke-linejoin="round"/>
<polyline points="1085.9,828.1 1098.5,828.1" fill="none" stroke="#97a92f" stroke-width="5.5" stroke-linecap="round" stroke-linejoin="round"/>
<polyline points="1138.1,875.3 1142.0,875.3" fill="none" stroke="#97a92f" stroke-width="5.5" stroke-linecap="round" stroke-linejoin="round"/>
<polyline points="1101.4,887.0 1106.2,887.0" fill="none" stroke="#97a92f" stroke-width="5.5" stroke-linecap="round" stroke-linejoin="round"/>
<polyline points="1205.7,681.6 1211.5,681.6" fill="none" stroke="#97a92f" stroke-width="5.5" stroke-linecap="round" stroke-linejoin="round"/>
<polyline points="1275.1,685.1 1280.0,686.6 1290.7,688.4" fill="none" stroke="#97a92f" stroke-width="5.5" stroke-linecap="round" stroke-linejoin="round"/>
<polyline points="1375.8,693.3 1387.5,696.8 1398.2,699.7" fill="none" stroke="#97a92f" stroke-width="5.5" stroke-linecap="round" stroke-linejoin="round"/>
<polyline points="1432.5,706.0 1439.3,705.0" fill="none" stroke="#97a92f" stroke-width="5.5" stroke-linecap="round" stroke-linejoin="round"/>
<polyline points="1455.9,707.9 1462.8,710.9" fill="none" stroke="#97a92f" stroke-width="5.5" stroke-linecap="round" stroke-linejoin="round"/>
<polyline points="1486.2,711.9 1495.0,713.4" fill="none" stroke="#97a92f" stroke-width="5.5" stroke-linecap="round" stroke-linejoin="round"/>
<polyline points="1250.3,726.7 1252.6,728.7" fill="none" stroke="#97a92f" stroke-width="5.5" stroke-linecap="round" stroke-linejoin="round"/>
<polyline points="1349.4,740.4 1353.3,740.4" fill="none" stroke="#97a92f" stroke-width="5.5" stroke-linecap="round" stroke-linejoin="round"/>
<polyline points="1252.6,758.0 1259.4,755.5" fill="none" stroke="#97a92f" stroke-width="5.5" stroke-linecap="round" stroke-linejoin="round"/>
<polyline points="1262.4,763.7 1274.1,763.7" fill="none" stroke="#97a92f" stroke-width="5.5" stroke-linecap="round" stroke-linejoin="round"/>
<polyline points="1465.7,775.6 1471.5,775.6" fill="none" stroke="#97a92f" stroke-width="5.5" stroke-linecap="round" stroke-linejoin="round"/>
<polyline points="1476.4,772.1 1481.3,776.0" fill="none" stroke="#97a92f" stroke-width="5.5" stroke-linecap="round" stroke-linejoin="round"/>
<polyline points="1274.1,816.1 1278.0,816.1" fill="none" stroke="#97a92f" stroke-width="5.5" stroke-linecap="round" stroke-linejoin="round"/>
<polyline points="1313.2,817.4 1318.1,817.4" fill="none" stroke="#97a92f" stroke-width="5.5" stroke-linecap="round" stroke-linejoin="round"/>
<polyline points="1470.6,796.5 1472.5,802.4" fill="none" stroke="#97a92f" stroke-width="5.5" stroke-linecap="round" stroke-linejoin="round"/>
<polyline points="1459.8,819.4 1462.8,819.4" fill="none" stroke="#97a92f" stroke-width="5.5" stroke-linecap="round" stroke-linejoin="round"/>
<polyline points="1451.0,867.9 1454.9,867.9" fill="none" stroke="#97a92f" stroke-width="5.5" stroke-linecap="round" stroke-linejoin="round"/>
<polyline points="1212.5,889.9 1218.4,889.9" fill="none" stroke="#97a92f" stroke-width="5.5" stroke-linecap="round" stroke-linejoin="round"/>
<polyline points="1071.6,905.0 1099.8,931.2" fill="none" stroke="#97a92f" stroke-width="5" stroke-linecap="round" stroke-linejoin="round"/>
<polyline points="1110.4,936.1 1118.2,942.9 1124.0,949.7 1124.0,953.5 1133.7,957.4 1149.3,969.1" fill="none" stroke="#97a92f" stroke-width="5.5" stroke-linecap="round" stroke-linejoin="round"/>
<polyline points="1155.1,970.1 1159.0,975.9" fill="none" stroke="#97a92f" stroke-width="5.5" stroke-linecap="round" stroke-linejoin="round"/>
<polyline points="1177.4,979.8 1184.2,984.6 1192.0,992.4" fill="none" stroke="#97a92f" stroke-width="5.5" stroke-linecap="round" stroke-linejoin="round"/>
<polyline points="1192.0,990.3 1201.9,995.3 1211.8,996.3 1221.8,1000.2 1231.7,1004.2 1241.6,1012.1 1255.5,1020.1 1261.4,1024.0 1275.3,1033.0 1287.2,1037.9 1301.1,1042.9 1311.0,1044.9 1319.0,1049.8 1326.9,1063.7" fill="none" stroke="#97a92f" stroke-width="5" stroke-linecap="round" stroke-linejoin="round"/>
<polyline points="1328.9,1050.8 1334.8,1062.7" fill="none" stroke="#97a92f" stroke-width="5.5" stroke-linecap="round" stroke-linejoin="round"/>
<polyline points="1339.8,1063.7 1356.7,1071.6 1366.6,1078.6 1376.5,1081.6 1390.4,1090.5 1398.3,1097.4 1408.2,1099.4 1416.2,1102.4 1420.1,1109.3 1429.1,1126.2" fill="none" stroke="#97a92f" stroke-width="5" stroke-linecap="round" stroke-linejoin="round"/>
<polyline points="1434.0,1127.2 1447.9,1131.2 1455.8,1135.1 1463.8,1137.1 1473.7,1145.0 1489.6,1150.0 1495.5,1152.0 1501.5,1155.0 1511.4,1161.9 1519.3,1162.9 1529.2,1168.8" fill="none" stroke="#97a92f" stroke-width="5" stroke-linecap="round" stroke-linejoin="round"/>
<polyline points="1202.9,986.9 1206.9,986.9" fill="none" stroke="#97a92f" stroke-width="5.5" stroke-linecap="round" stroke-linejoin="round"/>
<polyline points="1220.8,989.3 1224.7,989.3" fill="none" stroke="#97a92f" stroke-width="5.5" stroke-linecap="round" stroke-linejoin="round"/>
<polyline points="1266.4,1020.7 1275.3,1023.0" fill="none" stroke="#97a92f" stroke-width="5.5" stroke-linecap="round" stroke-linejoin="round"/>
<polyline points="1451.9,930.4 1456.8,930.4" fill="none" stroke="#97a92f" stroke-width="5.5" stroke-linecap="round" stroke-linejoin="round"/>
<polyline points="1389.4,968.9 1392.4,968.9" fill="none" stroke="#97a92f" stroke-width="5.5" stroke-linecap="round" stroke-linejoin="round"/>
<polyline points="1335.8,990.7 1342.8,990.7" fill="none" stroke="#97a92f" stroke-width="5.5" stroke-linecap="round" stroke-linejoin="round"/>
<polyline points="1512.8,994.7 1517.3,994.7" fill="none" stroke="#97a92f" stroke-width="5.5" stroke-linecap="round" stroke-linejoin="round"/>
<polyline points="1470.7,1005.2 1472.1,1007.2" fill="none" stroke="#97a92f" stroke-width="5.5" stroke-linecap="round" stroke-linejoin="round"/>
<polyline points="1498.5,1079.6 1502.5,1079.6" fill="none" stroke="#97a92f" stroke-width="5.5" stroke-linecap="round" stroke-linejoin="round"/>
<polyline points="1511.4,1099.0 1515.4,1099.0" fill="none" stroke="#97a92f" stroke-width="5.5" stroke-linecap="round" stroke-linejoin="round"/>
<path d="M305.0 27.4h0M316.6 26.6h0M344.1 28.8h0M383.8 26.6h0M393.9 28.8h0M292.0 31.7h0M323.1 31.7h0M350.6 31.7h0M401.9 31.7h0M431.5 31.7h0M234.2 34.6h0M288.4 39.6h0M300.7 43.3h0M324.5 42.5h0M333.9 44.0h0M338.3 42.5h0M399.0 44.0h0M414.2 43.3h0M430.8 41.1h0M276.1 49.8h0M294.9 49.8h0M336.8 51.9h0M346.2 48.3h0M360.7 49.8h0M387.4 51.9h0M393.2 48.3h0M412.7 50.5h0M433.7 48.3h0M234.2 49.0h0M232.7 57.7h0M325.3 109.0h0M338.3 111.2h0M346.9 111.2h0M360.0 109.0h0M393.9 109.0h0M427.9 109.0h0M433.7 109.0h0M284.8 117.0h0M206.7 43.3h0M208.1 50.5h0M436.4 27.4h0M442.2 27.4h0M443.0 31.0h0M453.8 28.8h0M471.9 31.7h0M500.8 31.7h0M556.5 24.5h0M557.9 31.7h0M560.8 28.8h0M573.8 26.6h0M583.2 26.6h0M654.8 30.2h0M656.2 23.7h0M658.4 18.0h0M456.7 38.9h0M463.9 41.1h0M459.6 41.1h0M566.6 42.5h0M573.8 42.5h0M583.2 33.1h0M660.6 36.0h0M435.0 47.6h0M444.4 49.8h0M449.5 51.9h0M468.3 50.5h0M484.9 49.0h0M498.6 51.2h0M513.1 50.5h0M518.9 50.5h0M523.2 50.5h0M530.4 50.5h0M581.0 49.0h0M653.3 47.6h0M662.0 51.2h0M662.7 57.0h0M435.0 109.0h0M440.8 109.0h0M447.3 109.0h0M465.4 111.2h0M484.9 111.9h0M486.3 108.3h0M532.6 109.0h0M548.5 109.0h0M556.5 113.4h0M581.0 109.8h0M591.2 109.0h0M663.5 112.7h0M789.1 20.8h0M813.0 31.7h0M881.6 31.7h0M884.5 31.7h0M897.6 31.7h0M901.9 31.7h0M928.6 31.7h0M807.9 44.0h0M814.4 43.3h0M852.7 42.5h0M856.3 38.2h0M860.0 40.4h0M904.8 43.3h0M811.5 51.9h0M864.3 50.5h0M870.8 50.5h0M878.8 50.5h0M890.3 50.5h0M894.7 50.5h0M901.9 50.5h0M913.5 50.5h0M920.7 51.9h0M932.3 50.5h0M732.4 50.5h0M807.6 109.0h0M815.1 109.0h0M836.4 111.6h0M875.4 109.0h0M903.3 109.0h0M919.2 109.8h0M920.0 111.2h0M945.8 30.2h0M946.6 25.9h0M952.4 27.4h0M1004.4 27.4h0M1006.6 31.0h0M1013.8 27.4h0M1016.0 31.0h0M1023.2 28.8h0M1034.0 26.6h0M1040.6 28.8h0M1042.0 31.7h0M1044.9 25.9h0M1050.0 30.2h0M1055.7 30.2h0M1131.6 26.6h0M1143.2 26.6h0M1151.9 26.6h0M1164.9 25.2h0M1167.8 31.7h0M948.7 42.5h0M1039.1 37.5h0M1046.3 39.6h0M1053.6 43.3h0M936.4 51.9h0M942.2 50.5h0M963.9 50.5h0M976.9 48.3h0M992.8 50.5h0M997.2 50.5h0M1008.7 51.2h0M1020.3 48.3h0M1027.5 50.5h0M1029.0 51.9h0M1049.2 50.5h0M1056.5 50.5h0M1059.3 59.2h0M1059.3 60.6h0M1102.0 42.5h0M1101.3 50.5h0M1106.3 49.0h0M1109.2 42.5h0M1121.5 48.3h0M1134.5 50.5h0M1143.9 48.3h0M1146.1 38.2h0M1149.7 33.1h0M1153.3 42.5h0M1169.2 50.5h0M1183.7 50.5h0M1044.5 83.0h0M947.3 109.0h0M965.4 108.3h0M967.5 106.9h0M991.4 109.0h0M1004.4 111.6h0M1014.5 109.0h0M1018.9 109.0h0M1023.2 113.4h0M1036.9 110.5h0M1044.2 109.0h0M1053.6 109.0h0M1099.1 109.0h0M1102.7 109.0h0M1107.8 111.2h0M1110.0 109.0h0M1183.7 109.0h0M1043.4 129.3h0M1190.1 27.4h0M1211.0 28.8h0M1221.1 31.7h0M1228.4 31.0h0M1231.3 27.4h0M1274.6 28.8h0M1274.6 31.7h0M1301.4 27.4h0M1312.2 31.7h0M1316.6 27.4h0M1327.4 28.1h0M1327.4 31.7h0M1342.6 31.7h0M1373.0 28.8h0M1384.5 27.4h0M1430.8 25.9h0M1300.7 44.7h0M1313.7 44.0h0M1319.5 39.6h0M1328.1 40.4h0M1342.6 44.0h0M1355.6 44.0h0M1373.0 43.3h0M1384.5 38.9h0M1401.9 38.2h0M1407.7 40.4h0M1410.6 44.0h0M1417.1 38.2h0M1430.8 41.8h0M1187.9 50.5h0M1190.8 52.7h0M1206.7 51.9h0M1214.6 48.3h0M1222.6 51.9h0M1227.7 50.5h0M1241.4 49.0h0M1242.8 51.9h0M1290.6 50.5h0M1297.8 50.5h0M1317.3 50.5h0M1344.1 51.9h0M1379.5 49.0h0M1389.6 51.2h0M1396.1 48.3h0M1403.3 49.0h0M1410.6 49.8h0M1413.5 47.6h0M1430.8 49.8h0M1241.4 58.4h0M1433.0 60.6h0M1185.0 109.0h0M1208.9 111.9h0M1215.4 113.4h0M1241.4 111.2h0M1277.5 109.0h0M1286.9 109.0h0M1346.2 109.0h0M1378.8 111.6h0M1407.7 109.0h0M1405.3 21.1h0M1385.0 27.4h0M1430.3 26.9h0M1449.5 27.4h0M1455.8 27.4h0M1461.5 30.0h0M1474.5 27.4h0M1494.3 28.9h0M1495.4 33.1h0M1508.9 28.9h0M1408.9 42.5h0M1416.8 38.3h0M1385.0 38.3h0M1430.3 43.0h0M1436.5 42.5h0M1454.8 43.0h0M1478.7 43.5h0M1500.6 38.3h0M1511.0 37.3h0M1391.2 52.4h0M1402.7 48.2h0M1411.0 49.8h0M1413.1 47.7h0M1439.1 50.3h0M1468.3 47.7h0M1503.7 50.3h0M1506.8 52.4h0M1511.0 48.2h0M1433.4 60.7h0M1445.9 60.7h0M1509.9 60.2h0M1518.3 61.7h0M1407.9 108.6h0M1440.2 108.6h0M1460.5 108.6h0M303.0 154.4h0M392.3 152.4h0M387.4 181.4h0M393.2 181.0h0M428.6 181.4h0M341.1 193.6h0M359.6 195.1h0M386.1 193.2h0M420.8 195.1h0M426.1 193.6h0M464.7 195.1h0M306.9 205.7h0M314.2 208.1h0M381.8 210.0h0M384.7 204.2h0M404.4 204.2h0M429.5 204.2h0M431.5 208.5h0M437.8 212.9h0M442.1 207.7h0M456.2 208.1h0M462.4 207.7h0M495.2 208.1h0M324.3 215.8h0M335.5 216.8h0M340.3 215.4h0M374.5 215.4h0M389.0 215.4h0M415.0 215.4h0M423.7 215.4h0M465.9 216.2h0M508.7 215.4h0M327.2 225.8h0M355.2 228.7h0M364.8 227.8h0M366.8 229.3h0M373.5 228.7h0M462.8 230.9h0M374.5 237.4h0M349.4 245.3h0M399.6 245.2h0M398.6 250.2h0M485.0 245.3h0M507.4 245.3h0M522.3 245.3h0M523.2 251.5h0M344.5 280.5h0M448.3 279.5h0M472.4 279.5h0M486.1 282.4h0M383.8 288.2h0M414.7 291.5h0M400.6 296.3h0M432.4 296.0h0M436.9 289.8h0M443.4 296.3h0M462.0 289.8h0M472.4 296.3h0M469.1 301.2h0M501.0 296.3h0M517.4 303.7h0M518.4 307.6h0M365.2 301.8h0M373.5 301.8h0M386.1 313.3h0M368.7 314.3h0M469.5 315.9h0M431.1 322.4h0M456.6 322.4h0M390.5 329.8h0M397.1 330.7h0M450.8 327.8h0M439.6 334.6h0M374.5 327.8h0M522.3 338.5h0M434.4 345.6h0M436.9 355.8h0M462.4 360.7h0M472.0 360.7h0M409.8 364.2h0M511.3 347.2h0M506.8 352.0h0M509.7 355.8h0M521.3 364.2h0M601.3 154.9h0M609.0 157.8h0M617.7 159.8h0M630.2 171.4h0M595.5 144.3h0M638.0 144.9h0M664.6 190.7h0M547.6 201.7h0M589.3 208.1h0M620.2 210.0h0M531.3 215.4h0M553.4 245.2h0M591.0 245.3h0M667.3 243.4h0M524.0 245.2h0M651.5 276.1h0M656.9 291.7h0M666.6 292.7h0M568.4 294.4h0M554.9 309.5h0M587.7 297.9h0M589.7 299.8h0M585.4 315.3h0M667.9 311.4h0M669.3 319.7h0M553.9 346.6h0M561.3 350.0h0M580.0 347.5h0M621.9 343.7h0M559.2 358.7h0M561.7 363.6h0M530.8 364.2h0M613.8 359.7h0M670.8 382.9h0M789.2 197.8h0M802.8 197.8h0M812.2 200.7h0M816.7 208.5h0M826.3 208.5h0M837.9 208.5h0M844.7 210.0h0M790.0 225.8h0M826.3 244.8h0M817.0 294.4h0M838.3 297.3h0M837.3 303.1h0M820.5 357.8h0M829.2 357.8h0M833.1 352.0h0M801.2 383.5h0M1043.4 130.2h0M1043.8 144.3h0M1031.5 153.4h0M1038.0 151.5h0M1044.4 157.3h0M1039.6 163.6h0M1013.9 162.7h0M1122.3 143.9h0M1156.8 184.9h0M861.9 198.4h0M861.9 200.3h0M879.8 197.8h0M895.7 200.7h0M875.4 204.2h0M886.0 204.2h0M896.6 208.1h0M903.4 214.4h0M947.4 201.3h0M967.1 206.1h0M1000.4 207.1h0M1007.3 208.1h0M1047.3 202.3h0M1045.4 208.1h0M1130.8 195.1h0M1138.1 200.7h0M1167.7 208.1h0M1158.8 215.4h0M1170.0 228.7h0M860.3 236.7h0M871.5 236.7h0M880.2 236.7h0M895.7 245.2h0M1143.9 232.2h0M1144.9 244.8h0M976.8 253.5h0M976.8 269.5h0M1015.8 245.3h0M1040.6 250.2h0M1047.3 244.2h0M1054.5 245.2h0M1020.3 274.7h0M1013.9 277.0h0M1010.6 282.1h0M1014.9 286.3h0M1043.4 279.0h0M879.8 296.3h0M926.6 296.3h0M945.9 296.3h0M1016.4 296.3h0M1045.4 302.7h0M887.0 318.6h0M908.8 322.0h0M917.3 330.7h0M943.0 332.7h0M1007.3 322.0h0M1007.3 331.7h0M1016.4 329.8h0M1025.1 331.7h0M1030.5 315.3h0M1050.8 330.7h0M874.4 350.0h0M885.6 358.7h0M905.9 358.7h0M919.8 358.7h0M914.4 346.6h0M935.8 346.6h0M966.6 352.0h0M964.2 360.7h0M958.8 362.2h0M1004.4 351.0h0M1024.7 357.8h0M1042.5 367.8h0M1056.0 378.1h0M931.0 378.1h0M925.6 383.5h0M930.4 383.5h0M955.6 383.5h0M1113.2 301.8h0M1127.9 302.7h0M1169.4 301.8h0M1150.3 313.9h0M1166.1 320.5h0M1184.5 322.0h0M1158.8 330.7h0M1128.4 345.2h0M1133.7 347.5h0M1132.3 353.9h0M1133.7 358.7h0M1117.8 360.3h0M1142.5 361.1h0M1154.1 347.2h0M1283.3 159.8h0M1412.3 156.9h0M1211.5 176.4h0M1245.2 176.4h0M1276.5 176.4h0M1315.5 174.8h0M1250.6 198.3h0M1255.5 199.3h0M1259.4 200.3h0M1393.7 189.5h0M1406.6 197.9h0M1353.7 201.6h0M1369.9 201.6h0M1376.2 198.9h0M1442.2 197.9h0M1450.4 200.7h0M1249.7 208.1h0M1305.4 204.2h0M1318.7 207.5h0M1335.3 208.1h0M1356.6 208.1h0M1374.8 208.1h0M1395.7 210.0h0M1435.4 204.2h0M1440.3 208.1h0M1446.5 208.5h0M1511.0 208.1h0M1518.9 208.1h0M1286.8 215.5h0M1480.0 215.5h0M1247.1 228.6h0M1375.2 228.6h0M1412.9 225.7h0M1444.2 228.6h0M1509.1 228.6h0M1511.0 233.5h0M1345.5 234.1h0M1194.9 241.7h0M1208.0 244.2h0M1219.0 241.7h0M1226.6 246.2h0M1240.9 245.2h0M1247.1 244.2h0M1253.6 236.8h0M1319.5 244.2h0M1392.8 245.2h0M1405.1 244.6h0M1412.9 251.1h0M1451.4 244.6h0M1469.2 244.2h0M1496.0 245.2h0M1498.9 249.1h0M1283.3 252.7h0M1380.6 256.0h0M1395.7 255.4h0M1236.0 257.3h0M1232.1 263.2h0M1234.0 274.5h0M1214.5 276.9h0M1404.1 279.8h0M1516.1 286.3h0M1434.4 291.8h0M1346.4 291.8h0M1357.6 290.2h0M1358.4 298.4h0M1375.2 301.9h0M1312.2 296.4h0M1288.8 300.9h0M1248.7 302.3h0M1201.2 297.0h0M1202.8 300.9h0M1202.4 308.4h0M1198.5 312.3h0M1200.4 318.5h0M1443.8 301.9h0M1489.1 300.4h0M1513.6 305.8h0M1519.1 302.9h0M1336.3 313.6h0M1352.9 315.0h0M1360.7 315.0h0M1371.3 316.6h0M1377.9 312.3h0M1390.8 310.3h0M1352.7 321.5h0M1370.3 321.5h0M1374.8 324.8h0M1357.6 326.0h0M1298.9 321.5h0M1318.5 321.5h0M1309.3 329.9h0M1228.2 322.4h0M1233.1 326.0h0M1194.0 331.8h0M1225.6 335.5h0M1497.9 315.0h0M1485.6 322.4h0M1496.6 322.4h0M1503.4 321.5h0M1440.9 321.5h0M1400.6 328.3h0M1390.0 335.5h0M1487.8 336.1h0M1359.1 347.9h0M1365.0 349.8h0M1367.9 354.1h0M1357.2 354.1h0M1386.1 347.9h0M1386.1 352.2h0M1388.1 356.3h0M1392.8 345.9h0M1387.1 361.5h0M1402.7 361.5h0M1440.3 345.9h0M1431.9 354.1h0M1448.7 354.1h0M1458.3 354.1h0M1473.5 345.9h0M1496.0 345.9h0M1479.0 365.1h0M1518.9 361.9h0M1233.1 354.1h0M1514.6 383.0h0M434.8 395.0h0M436.9 405.3h0M448.9 425.6h0M458.1 431.9h0M479.4 410.7h0M485.9 423.6h0M478.8 442.4h0M504.9 405.3h0M514.1 405.3h0M513.0 463.2h0M603.2 604.8h0M611.9 606.2h0M615.8 608.1h0M624.5 608.7h0M632.2 609.5h0M640.9 610.6h0M665.4 627.0h0M683.8 628.0h0M691.1 629.4h0M694.0 630.3h0M548.3 396.6h0M547.4 409.7h0M563.2 405.7h0M565.5 417.3h0M572.5 423.6h0M564.2 432.9h0M532.7 446.8h0M548.3 448.7h0M562.2 463.2h0M575.4 462.8h0M653.4 471.0h0M550.3 511.1h0M678.5 420.2h0M682.4 439.7h0M683.2 444.3h0M688.6 465.7h0M689.7 476.8h0M691.1 478.7h0M692.4 484.1h0M694.4 504.4h0M696.3 509.2h0M697.9 521.2h0M698.8 526.0h0M695.0 527.9h0M699.8 533.4h0M738.8 466.5h0M659.8 543.4h0M670.2 540.9h0M652.5 559.8h0M655.4 563.1h0M569.8 562.1h0M568.4 568.5h0M588.3 558.3h0M592.0 561.2h0M701.7 587.8h0M702.7 595.6h0M652.5 602.3h0M807.4 409.7h0M818.6 409.7h0M823.0 404.3h0M829.2 409.7h0M854.9 404.9h0M815.7 437.5h0M824.0 463.2h0M853.9 463.2h0M815.7 531.4h0M855.9 531.8h0M789.0 561.2h0M801.8 561.2h0M816.9 568.5h0M835.4 589.8h0M800.2 602.3h0M809.5 632.3h0M818.6 633.8h0M826.3 634.6h0M831.1 636.1h0M853.4 386.5h0M866.1 390.2h0M925.6 385.6h0M930.4 385.6h0M955.6 385.6h0M985.9 390.2h0M883.7 410.7h0M923.1 404.9h0M924.6 412.6h0M950.7 405.7h0M960.0 409.7h0M1009.6 404.9h0M915.4 426.5h0M920.8 433.9h0M935.3 433.9h0M957.1 433.9h0M1003.1 424.6h0M1011.0 436.8h0M1051.0 434.8h0M866.1 443.3h0M951.1 443.3h0M988.6 443.3h0M933.0 451.6h0M921.7 463.2h0M951.5 463.2h0M998.1 467.1h0M1008.3 463.2h0M1048.3 467.1h0M1045.4 468.5h0M953.2 478.7h0M1051.0 482.2h0M1116.9 390.2h0M1154.9 388.5h0M1103.7 405.7h0M1142.0 406.2h0M1161.3 404.9h0M1187.4 405.7h0M1108.5 434.8h0M1120.7 435.6h0M1125.5 434.8h0M1100.8 446.8h0M1153.9 451.6h0M1102.9 463.2h0M1127.1 470.0h0M1127.5 475.4h0M1147.8 469.0h0M1161.9 463.2h0M1186.4 463.2h0M885.6 520.2h0M859.0 531.8h0M1104.9 512.5h0M1178.1 502.8h0M1170.9 511.1h0M1177.3 524.5h0M888.3 559.4h0M884.7 580.7h0M872.5 590.2h0M872.5 602.3h0M960.4 572.8h0M956.1 581.1h0M986.5 580.7h0M1000.9 569.5h0M1000.4 576.6h0M1041.5 565.0h0M1033.8 580.5h0M1033.8 584.4h0M1020.7 607.2h0M954.2 626.1h0M981.2 623.6h0M878.3 627.4h0M878.3 630.3h0M1145.8 559.4h0M1190.6 558.3h0M1126.1 584.6h0M1150.3 586.3h0M1127.9 601.4h0M1190.6 599.4h0M889.9 643.5h0M895.7 642.9h0M901.5 644.8h0M1348.4 387.0h0M1364.4 387.0h0M1448.1 387.0h0M1450.4 390.3h0M1500.5 390.3h0M1246.2 408.1h0M1276.6 407.1h0M1299.9 411.8h0M1306.8 414.7h0M1282.3 418.2h0M1354.8 419.2h0M1402.2 405.5h0M1440.3 411.8h0M1520.4 410.4h0M1209.6 423.7h0M1397.3 423.7h0M1208.6 434.8h0M1235.0 431.9h0M1243.2 433.9h0M1247.3 434.8h0M1293.3 434.8h0M1311.2 433.9h0M1310.3 440.7h0M1346.4 435.4h0M1350.3 437.8h0M1387.1 436.8h0M1391.0 433.9h0M1400.2 436.8h0M1431.9 433.9h0M1373.4 447.0h0M1507.1 433.9h0M1195.9 470.0h0M1249.7 473.0h0M1286.8 463.2h0M1347.4 463.8h0M1400.8 463.2h0M1504.4 467.1h0M1519.1 470.0h0M1319.3 483.3h0M1374.4 481.2h0M1389.1 481.2h0M1396.5 481.2h0M1405.9 481.2h0M1259.8 489.6h0M1260.8 493.5h0M1261.8 500.9h0M1303.6 508.2h0M1195.5 522.4h0M1208.0 524.4h0M1197.9 534.2h0M1315.2 532.0h0M1337.1 534.2h0M1378.7 518.9h0M1379.7 520.3h0M1392.8 520.3h0M1382.0 528.7h0M1399.8 532.0h0M1452.6 520.3h0M1470.0 511.1h0M1483.7 507.2h0M1493.1 511.1h0M1490.7 523.2h0M1464.3 542.8h0M1350.9 556.4h0M1193.0 558.4h0M1199.4 563.9h0M1228.2 571.3h0M1304.4 580.5h0M1218.4 585.4h0M1234.6 591.8h0M1256.1 589.9h0M1196.9 596.1h0M1201.4 596.1h0M1193.0 599.1h0M1245.2 600.0h0M1249.1 603.0h0M1335.1 589.3h0M1359.1 587.3h0M1353.7 594.6h0M1406.6 561.3h0M1442.2 561.3h0M1384.6 578.9h0M1428.9 574.2h0M1517.1 563.9h0M1515.5 574.2h0M1406.6 602.0h0M1443.2 596.1h0M1440.3 600.0h0M1498.3 602.0h0M1503.4 598.5h0M1258.1 625.5h0M1410.6 627.4h0M1526.3 629.4h0M826.3 727.5h0M831.1 729.4h0M828.3 743.5h0M834.0 751.2h0M837.9 755.7h0M962.3 825.6h0M968.1 830.4h0M984.5 835.3h0M1006.4 851.1h0M1017.4 857.5h0M1030.5 858.5h0M1075.3 896.5h0M1081.7 896.5h0M1088.3 896.5h0M1094.6 896.5h0M884.1 783.1h0M896.6 789.9h0M887.0 755.1h0M870.0 755.1h0M896.6 755.5h0M902.0 766.3h0M911.7 761.9h0M919.8 783.1h0M930.1 763.8h0M906.3 738.7h0M878.7 647.7h0M878.7 660.5h0M889.9 645.6h0M901.5 646.5h0M942.4 647.7h0M997.1 663.4h0M1026.6 665.3h0M1056.4 667.2h0M978.3 685.6h0M1129.8 671.7h0M1159.4 677.3h0M1168.6 676.3h0M1178.7 678.2h0M1052.1 732.3h0M977.8 734.8h0M987.0 737.7h0M1000.0 742.6h0M956.1 748.0h0M977.4 748.0h0M1125.2 750.7h0M976.4 763.8h0M988.8 767.3h0M1058.3 776.0h0M1057.6 787.0h0M1131.7 783.1h0M1170.9 776.0h0M984.1 793.4h0M1028.6 794.3h0M1025.7 823.1h0M1102.0 819.4h0M1106.6 831.4h0M1148.3 841.1h0M1191.2 823.1h0M1410.9 660.6h0M1524.3 676.3h0M1524.9 646.6h0M1285.8 676.3h0M1227.2 683.1h0M1238.5 683.7h0M1298.0 689.6h0M1317.5 690.5h0M1347.0 691.3h0M1360.5 692.3h0M1405.1 697.8h0M1410.9 702.1h0M1451.0 707.2h0M1504.4 714.4h0M1210.6 719.3h0M1303.6 734.1h0M1364.0 732.4h0M1404.7 736.9h0M1500.5 737.9h0M1476.4 748.0h0M1512.6 756.4h0M1469.6 759.2h0M1230.7 765.6h0M1257.1 768.2h0M1291.7 762.9h0M1314.2 765.6h0M1342.5 764.6h0M1380.6 763.7h0M1415.8 760.9h0M1368.5 775.6h0M1305.6 778.5h0M1312.2 779.5h0M1296.8 785.8h0M1304.4 788.1h0M1358.4 791.6h0M1493.1 775.6h0M1523.7 783.4h0M1457.9 786.7h0M1248.1 799.0h0M1305.4 801.8h0M1436.4 808.2h0M1440.3 819.6h0M1457.5 829.7h0M1497.0 823.3h0M1525.3 824.8h0M1372.2 821.3h0M1338.2 825.2h0M1257.1 823.9h0M1200.4 824.8h0M1193.6 822.9h0M1221.9 836.2h0M1224.6 817.4h0M1231.1 817.4h0M1304.4 844.4h0M1291.7 851.8h0M1232.1 861.0h0M1234.0 868.4h0M1340.0 858.5h0M1392.8 853.8h0M1403.7 860.4h0M1438.3 856.5h0M1455.5 854.6h0M1482.9 852.8h0M1306.4 866.9h0M1313.2 864.9h0M1340.0 877.0h0M1194.0 877.0h0M1213.5 882.5h0M1217.4 879.6h0M1240.9 895.2h0M1416.8 894.6h0M1463.3 893.7h0M1492.1 893.3h0M1107.5 933.2h0M1116.3 934.1h0M1166.8 976.8h0M1168.7 978.4h0M1182.3 974.9h0M1190.4 975.3h0M1145.8 939.4h0M1157.0 951.6h0M1211.8 989.3h0M1219.8 998.2h0M1228.7 1000.2h0M1300.1 1037.9h0M1302.7 1033.4h0M1354.7 1069.7h0M1472.7 1137.1h0M1479.7 1136.5h0M1479.7 1142.1h0M1516.4 1159.5h0M1528.9 1157.9h0M1281.3 937.7h0M1311.0 933.8h0M1523.7 956.2h0M1524.7 978.4h0M1525.9 992.3h0M1193.0 975.4h0M1284.2 976.4h0M1286.8 978.4h0M1284.2 982.0h0M1284.2 990.3h0M1299.1 990.3h0M1248.9 995.9h0M1285.6 1003.6h0M1358.2 968.1h0M1416.8 967.1h0M1371.5 984.7h0M1348.3 985.7h0M1338.8 995.3h0M1432.6 993.3h0M1443.5 993.3h0M1381.5 1002.6h0M1497.5 992.3h0M1479.3 1006.2h0M1482.0 1001.6h0M1518.3 1010.7h0M1476.1 1014.7h0M1343.4 1012.7h0M1326.9 1020.1h0M1372.1 1019.1h0M1406.6 1019.1h0M1427.1 1013.7h0M1441.2 1019.1h0M1351.3 1036.5h0M1335.2 1040.5h0M1385.4 1049.8h0M1461.4 1043.3h0M1519.3 1038.5h0M1497.5 1065.7h0M1415.2 1075.0h0M1441.6 1079.6h0M1455.4 1099.0h0M1528.0 629.0h0M1528.0 817.0h0M1528.0 1158.0h0M1526.0 660.0h0M1527.0 1120.0h0M310.9 25.5h0M342.7 25.7h0M372.6 27.8h0M413.7 25.7h0M427.8 26.6h0M436.7 26.4h0M456.0 27.5h0M480.4 26.8h0M520.1 26.3h0M534.4 26.7h0M548.6 27.0h0M578.4 28.0h0M595.5 26.1h0M611.1 27.6h0M625.8 27.0h0M639.1 25.5h0M865.4 28.0h0M943.3 25.9h0M970.3 27.1h0M984.7 25.8h0M993.3 27.9h0M1011.7 26.5h0M1018.4 26.2h0M1046.0 26.9h0M1056.1 27.5h0M1069.0 28.1h0M1097.0 27.8h0M1110.0 27.8h0M1123.8 28.3h0M1138.4 26.4h0M1152.7 26.3h0M1166.7 27.8h0M1177.4 27.0h0M1190.2 28.5h0M1212.4 25.7h0M1229.4 27.6h0M1240.6 28.0h0M1252.0 28.0h0M1264.5 27.3h0M1284.7 27.0h0M1320.4 27.9h0M1336.4 25.8h0M1347.4 27.6h0M1382.7 27.2h0M1400.0 26.6h0M1424.0 27.5h0M1439.2 27.3h0M1447.2 27.2h0M1485.1 27.4h0" fill="none" stroke="#97a92f" stroke-width="5.5" stroke-linecap="round"/>
<circle cx="497.9" cy="109.0" r="4" fill="#98a828"/>
<circle cx="472.6" cy="20.8" r="4.5" fill="#86a548"/>
<circle cx="501.5" cy="20.8" r="5.5" fill="#86a548"/>
<circle cx="457.4" cy="50.5" r="5" fill="#7a9a50"/>
<circle cx="473.3" cy="49.8" r="5" fill="#a8a020"/>
<circle cx="503.7" cy="49.8" r="6" fill="#a8a020"/>
<circle cx="811.5" cy="21.6" r="4.5" fill="#86a548"/>
<circle cx="820.2" cy="20.1" r="4.5" fill="#a4a424"/>
<circle cx="833.9" cy="20.8" r="4.5" fill="#86a548"/>
<circle cx="820.2" cy="31.7" r="4.5" fill="#86a548"/>
<circle cx="997.2" cy="23.7" r="4.5" fill="#a4a424"/>
<circle cx="959.6" cy="20.1" r="4" fill="#86a548"/>
<circle cx="1160.6" cy="20.8" r="4.5" fill="#86a548"/>
<circle cx="1162.0" cy="50.5" r="4.5" fill="#a4a424"/>
<circle cx="1205.2" cy="20.1" r="4.5" fill="#86a548"/>
<circle cx="1205.2" cy="27.4" r="4.5" fill="#86a548"/>
<circle cx="1205.2" cy="43.3" r="4.5" fill="#86a548"/>
<circle cx="1303.6" cy="20.1" r="4.5" fill="#a4a424"/>
<circle cx="1303.6" cy="51.9" r="4.5" fill="#86a548"/>
<circle cx="1483.9" cy="21.1" r="5" fill="#7fa050"/>
<circle cx="1476.6" cy="21.7" r="4.5" fill="#a8a020"/>
<circle cx="1430.8" cy="50.3" r="5" fill="#8aa540"/>
<circle cx="1484.4" cy="108.6" r="5" fill="#a8a020"/>
<circle cx="1476.4" cy="208.1" r="6.8" fill="#c6a015"/>
<circle cx="1476.4" cy="580.5" r="7" fill="#6a9a68"/>
<circle cx="810.9" cy="734.2" r="5" fill="#a8a020"/>
<circle cx="999.0" cy="851.7" r="4" fill="#7fa050"/>
<circle cx="892.8" cy="774.8" r="4" fill="#97a92f"/>
<circle cx="883.1" cy="748.9" r="3.8" fill="#97a92f"/>
<circle cx="957.1" cy="787.0" r="4" fill="#97a92f"/>
</g>
<circle cx="1418.5" cy="775.4" r="12.3" fill="#e68600"/>
<circle cx="1425.5" cy="775.4" r="12.3" fill="#e68600"/>
<circle cx="1418.5" cy="239.5" r="12.6" fill="#28739a"/>
<circle cx="1425.5" cy="239.5" r="12.6" fill="#28739a"/>
<circle cx="1418.5" cy="21.4" r="12.2" fill="#e68600"/>
<circle cx="1425.5" cy="21.4" r="12.2" fill="#e68600"/>
<circle cx="1528.5" cy="20.8" r="14.8" fill="#e42a00"/>
<circle cx="1528.5" cy="38.3" r="16.2" fill="#0c4a4a"/>
<circle cx="1528.5" cy="40.2" r="15.6" fill="#e42a00"/>
<rect x="1418.5" y="763.1" width="7" height="24.6" fill="#e68600"/>
<rect x="1418.5" y="226.9" width="7" height="25.2" fill="#28739a"/>
<rect x="1418.5" y="9.2" width="7" height="24.4" fill="#e68600"/>
<circle cx="1427.5816226783968" cy="240.34701857282502" r="2.75" fill="#97a92f"/>
<circle cx="1433.446725317693" cy="248.16715542521993" r="2.75" fill="#97a92f"/>
<circle cx="1430.3" cy="21.1" r="2.75" fill="#97a92f"/>
<circle cx="1430.3" cy="26.9" r="2.75" fill="#97a92f"/>
<circle cx="1435.5" cy="21.6" r="2.75" fill="#97a92f"/>
<circle cx="1432" cy="24" r="2.75" fill="#97a92f"/>
<rect x="1583.5" y="16.0" width="69.0" height="1151.0" fill="url(#cb)" stroke="#000" stroke-width="2"/>
<line x1="1640.5" y1="16.0" x2="1652.5" y2="16.0" stroke="#000" stroke-width="2"/>
<line x1="1640.5" y1="159.9" x2="1652.5" y2="159.9" stroke="#000" stroke-width="2"/>
<line x1="1640.5" y1="303.8" x2="1652.5" y2="303.8" stroke="#000" stroke-width="2"/>
<line x1="1640.5" y1="447.6" x2="1652.5" y2="447.6" stroke="#000" stroke-width="2"/>
<line x1="1640.5" y1="591.5" x2="1652.5" y2="591.5" stroke="#000" stroke-width="2"/>
<line x1="1640.5" y1="735.4" x2="1652.5" y2="735.4" stroke="#000" stroke-width="2"/>
<line x1="1640.5" y1="879.2" x2="1652.5" y2="879.2" stroke="#000" stroke-width="2"/>
<line x1="1640.5" y1="1023.1" x2="1652.5" y2="1023.1" stroke="#000" stroke-width="2"/>
<line x1="1640.5" y1="1167.0" x2="1652.5" y2="1167.0" stroke="#000" stroke-width="2"/>
<text transform="translate(193.50,1233.00) scale(0.955,1)" font-size="51" text-anchor="middle">0</text>
<text transform="translate(379.33,1233.00) scale(0.955,1)" font-size="51" text-anchor="middle">200</text>
<text transform="translate(565.16,1233.00) scale(0.955,1)" font-size="51" text-anchor="middle">400</text>
<text transform="translate(750.99,1233.00) scale(0.955,1)" font-size="51" text-anchor="middle">600</text>
<text transform="translate(936.82,1233.00) scale(0.955,1)" font-size="51" text-anchor="middle">800</text>
<text transform="translate(1122.65,1233.00) scale(0.955,1)" font-size="51" text-anchor="middle">1000</text>
<text transform="translate(1308.48,1233.00) scale(0.955,1)" font-size="51" text-anchor="middle">1200</text>
<text transform="translate(1494.31,1233.00) scale(0.955,1)" font-size="51" text-anchor="middle">1400</text>
<text transform="translate(175.50,36.40) scale(0.955,1)" font-size="51" text-anchor="end">0</text>
<text transform="translate(175.50,222.23) scale(0.955,1)" font-size="51" text-anchor="end">200</text>
<text transform="translate(175.50,408.06) scale(0.955,1)" font-size="51" text-anchor="end">400</text>
<text transform="translate(175.50,593.89) scale(0.955,1)" font-size="51" text-anchor="end">600</text>
<text transform="translate(175.50,779.72) scale(0.955,1)" font-size="51" text-anchor="end">800</text>
<text transform="translate(175.50,965.55) scale(0.955,1)" font-size="51" text-anchor="end">1000</text>
<text transform="translate(175.50,1151.38) scale(0.955,1)" font-size="51" text-anchor="end">1200</text>
<text transform="translate(1668.00,32.80) scale(0.92,1)" font-size="44.5" text-anchor="start">40</text>
<text transform="translate(1668.00,176.68) scale(0.92,1)" font-size="44.5" text-anchor="start">30</text>
<text transform="translate(1668.00,320.55) scale(0.92,1)" font-size="44.5" text-anchor="start">20</text>
<text transform="translate(1668.00,464.43) scale(0.92,1)" font-size="44.5" text-anchor="start">10</text>
<text transform="translate(1668.00,608.30) scale(0.92,1)" font-size="44.5" text-anchor="start">0</text>
<text transform="translate(1668.00,752.17) scale(0.92,1)" font-size="44.5" text-anchor="start">-10</text>
<text transform="translate(1668.00,896.05) scale(0.92,1)" font-size="44.5" text-anchor="start">-20</text>
<text transform="translate(1668.00,1039.92) scale(0.92,1)" font-size="44.5" text-anchor="start">-30</text>
<text transform="translate(1668.00,1183.80) scale(0.92,1)" font-size="44.5" text-anchor="start">-40</text>
<text transform="translate(853.00,1298.00) scale(0.95,1)" font-size="56.5" text-anchor="middle">Number of columns/reactions</text>
<text transform="translate(865.50,1366.00) scale(0.945,1)" font-size="56.5" text-anchor="middle">(6193 nonzero elements)</text>
<text transform="translate(42.00,600.70) rotate(-90) scale(0.95,1)" font-size="56.5" text-anchor="middle">Number of rows/metabolites</text>
</svg></body></html>
